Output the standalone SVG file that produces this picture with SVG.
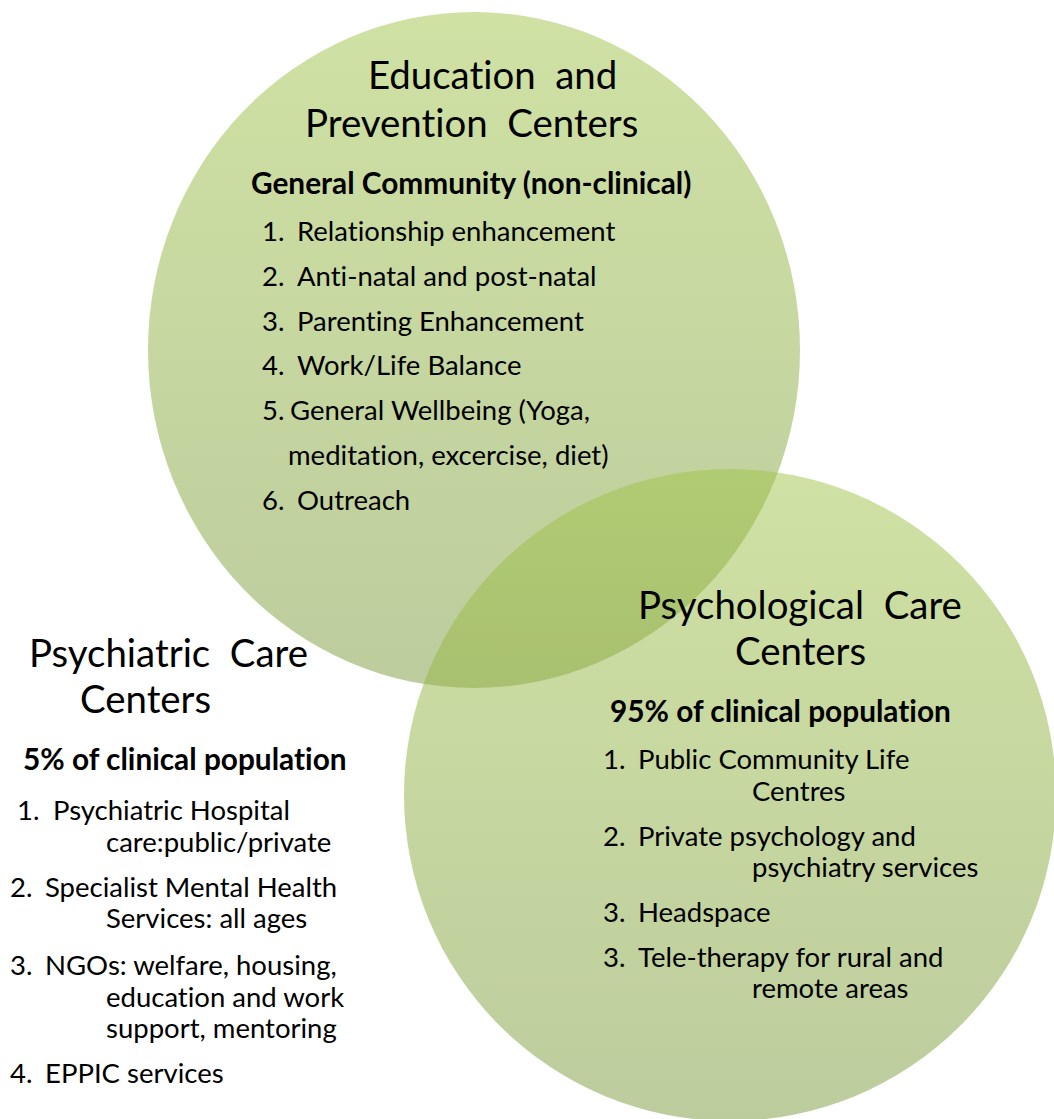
<svg xmlns="http://www.w3.org/2000/svg" width="1054" height="1119" viewBox="0 0 1054 1119">
  <defs>
    <linearGradient id="g1" x1="0" y1="0" x2="0" y2="1">
      <stop offset="0" stop-color="#9fc347" stop-opacity="0.5"/>
      <stop offset="1" stop-color="#7b993b" stop-opacity="0.5"/>
    </linearGradient>
    <style>
      text { font-family: Lato, "Liberation Sans", sans-serif; fill: #000; font-variant-ligatures: none; white-space: pre; }
      .title { font-size: 38.4px; }
      .sub { font-size: 29.8px; font-weight: bold; }
      .item { font-size: 27.5px; }
    </style>
  </defs>
  <rect width="1054" height="1119" fill="#ffffff"/>

  <!-- Education and Prevention -->
  <g id="node-education">
    <ellipse cx="474" cy="350" rx="326" ry="338" fill="url(#g1)"/>
  </g>

  <!-- Psychological Care -->
  <g id="node-psychological">
    <ellipse cx="730" cy="795" rx="326" ry="326" fill="url(#g1)"/>
  </g>

  <g id="label-education">
    <text class="title" x="368" y="89" xml:space="preserve">Education  and</text>
    <text class="title" x="305" y="137" xml:space="preserve">Prevention  Centers</text>
    <text class="sub" x="251" y="194">General Community (non-clinical)</text>
    <text class="item" x="262" y="241">1.</text><text class="item" x="297" y="241">Relationship enhancement</text>
    <text class="item" x="262" y="286">2.</text><text class="item" x="297" y="286">Anti-natal and post-natal</text>
    <text class="item" x="262" y="331">3.</text><text class="item" x="297" y="331">Parenting Enhancement</text>
    <text class="item" x="262" y="375">4.</text><text class="item" x="297" y="375">Work/Life Balance</text>
    <text class="item" x="262" y="420">5.</text><text class="item" x="290" y="420">General Wellbeing (Yoga,</text>
    <text class="item" x="288" y="465">meditation, excercise, diet)</text>
    <text class="item" x="262" y="510">6.</text><text class="item" x="297" y="510">Outreach</text>
  </g>

  <g id="label-psychological">
    <text class="title" x="638" y="619" xml:space="preserve">Psychological  Care</text>
    <text class="title" x="735" y="665">Centers</text>
    <text class="sub" x="610" y="722">95% of clinical population</text>
    <text class="item" x="603" y="769">1.</text><text class="item" x="638" y="769">Public Community Life</text>
    <text class="item" x="752" y="801">Centres</text>
    <text class="item" x="603" y="846">2.</text><text class="item" x="638" y="846">Private psychology and</text>
    <text class="item" x="752" y="877">psychiatry services</text>
    <text class="item" x="603" y="922">3.</text><text class="item" x="638" y="922">Headspace</text>
    <text class="item" x="603" y="967">3.</text><text class="item" x="638" y="967">Tele-therapy for rural and</text>
    <text class="item" x="752" y="998">remote areas</text>
  </g>

  <!-- Psychiatric Care (outside both circles) -->
  <g id="node-psychiatric">
    <text class="title" x="29" y="667" xml:space="preserve">Psychiatric  Care</text>
    <text class="title" x="80" y="713">Centers</text>
    <text class="sub" x="23" y="770">5% of clinical population</text>
    <text class="item" x="17" y="820">1.</text><text class="item" x="53" y="820">Psychiatric Hospital</text>
    <text class="item" x="106" y="852">care:public/private</text>
    <text class="item" x="10" y="897">2.</text><text class="item" x="45" y="897">Specialist Mental Health</text>
    <text class="item" x="106" y="928">Services: all ages</text>
    <text class="item" x="10" y="975">3.</text><text class="item" x="45" y="975">NGOs: welfare, housing,</text>
    <text class="item" x="106" y="1007">education and work</text>
    <text class="item" x="106" y="1038">support, mentoring</text>
    <text class="item" x="10" y="1083">4.</text><text class="item" x="45" y="1083">EPPIC services</text>
  </g>
</svg>
